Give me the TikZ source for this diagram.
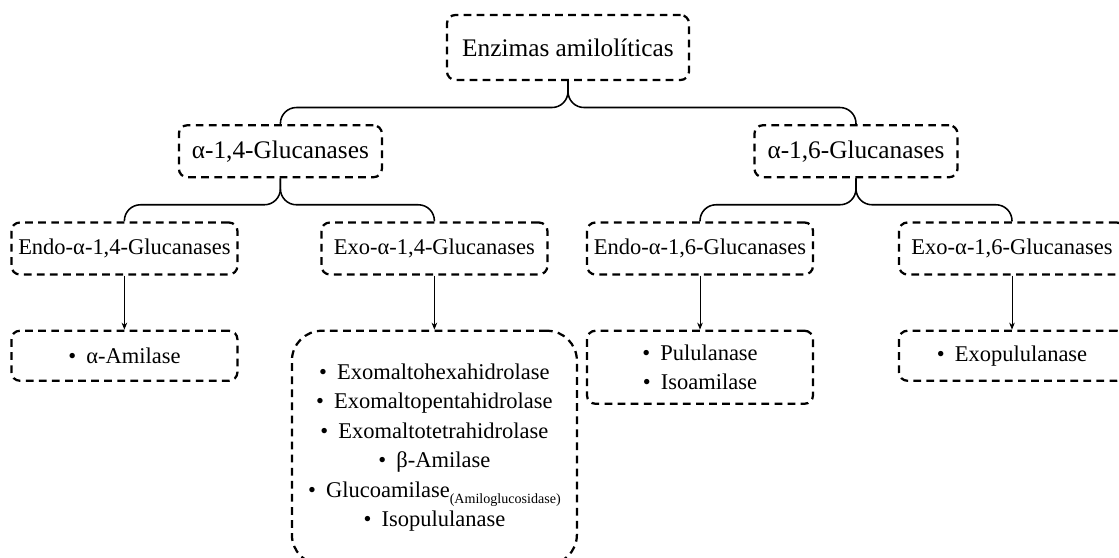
\documentclass[tikz,border=0pt]{standalone}
\usepackage{fontspec}
\setmainfont{Liberation Serif}
\usetikzlibrary{positioning, arrows.meta}
\newcommand{\enzitem}{•\hspace{0.45em}}

\begin{document}
\begin{tikzpicture}[
    group/.style={
      draw, rounded corners=6pt, line width=1.6pt,
      dash pattern=on 5.5pt off 3.8pt, align=center, inner sep=2pt,
      minimum width=5.65cm, minimum height=1.3cm,
      font=\fontsize{16}{20}\selectfont
    },
    family/.style={group, minimum width=5.075cm, font=\fontsize{18}{22}\selectfont},
    leaf/.style={group, minimum height=1.25cm},
    split/.style={line width=1.1pt, rounded corners=0.4cm},
    edge/.style={-{Stealth[length=5pt, width=4pt]}, line width=0.7pt},
    node distance=1.075cm,
]
    \useasboundingbox (-14.2,1.1875) rectangle (13.775,-12.7625);

    % Top levels
    \node[family, minimum width=6.05cm, minimum height=1.625cm] (root) {Enzimas amilolíticas};
    \node[family, below=of root, xshift=-7.19cm] (a14) {α-1,4-Glucanases};
    \node[family, below=of root, xshift=7.2cm] (a16) {α-1,6-Glucanases};

    \node[group, below=of a14, xshift=-3.9cm] (endo14) {Endo-α-1,4-Glucanases};
    \node[group, below=of a14, xshift=3.85cm] (exo14) {Exo-α-1,4-Glucanases};
    \node[group, below=of a16, xshift=-3.9cm] (endo16) {Endo-α-1,6-Glucanases};
    \node[group, below=of a16, xshift=3.9cm] (exo16) {Exo-α-1,6-Glucanases};

    \draw[split] (root.south) -- ++(0,-0.66) -| (a14.north);
    \draw[split] (root.south) -- ++(0,-0.66) -| (a16.north);
    \draw[split] (a14.south) -- ++(0,-0.66) -| (endo14.north);
    \draw[split] (a14.south) -- ++(0,-0.66) -| (exo14.north);
    \draw[split] (a16.south) -- ++(0,-0.66) -| (endo16.north);
    \draw[split] (a16.south) -- ++(0,-0.66) -| (exo16.north);

    % Enzymes
    \node[leaf, below=1.35cm of endo14] (amil) {\enzitem α-Amilase};
    \node[group, below=1.35cm of exo14, minimum width=7.125cm,
      minimum height=5.85cm, rounded corners=0.75cm,
      font=\fontsize{16}{21}\selectfont] (exolist)
      {\enzitem Exomaltohexahidrolase\\
       \enzitem Exomaltopentahidrolase\\
       \enzitem Exomaltotetrahidrolase\\
       \enzitem β-Amilase\\
       \enzitem Glucoamilase\raisebox{-4pt}{\fontsize{10}{12}\selectfont(Amiloglucosidase)}\\
       \enzitem Isopululanase};
    \node[group, below=1.35cm of endo16, minimum height=1.825cm] (pulu)
      {\enzitem Pululanase\\ \enzitem Isoamilase};
    \node[leaf, below=1.35cm of exo16] (exopulu) {\enzitem Exopululanase};

    \draw[edge] (endo14) -- (amil);
    \draw[edge] (exo14) -- (exolist);
    \draw[edge] (endo16) -- (pulu);
    \draw[edge] (exo16) -- (exopulu);
\end{tikzpicture}
\end{document}
